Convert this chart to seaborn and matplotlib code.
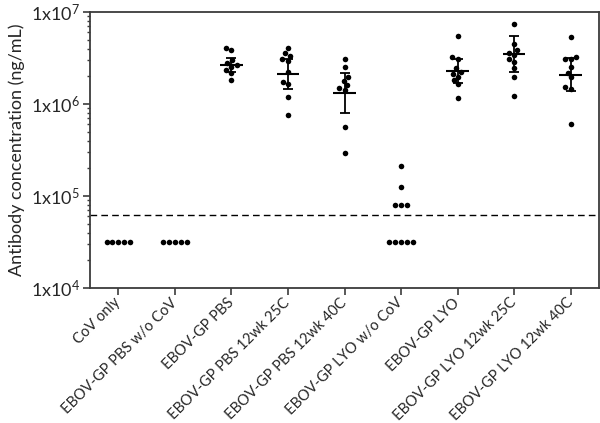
import numpy as np
import pandas as pd
import matplotlib
matplotlib.use("Agg")
import matplotlib.pyplot as plt
import seaborn as sns
from matplotlib.ticker import LogLocator, FuncFormatter, NullFormatter

# ---------------- data ----------------
groups = ["CoV only", "EBOV-GP PBS w/o CoV", "EBOV-GP PBS", "EBOV-GP PBS 12wk 25C",
          "EBOV-GP PBS 12wk 40C", "EBOV-GP LYO w/o CoV", "EBOV-GP LYO",
          "EBOV-GP LYO 12wk 25C", "EBOV-GP LYO 12wk 40C"]

cov_only = [31250, 31250, 31250, 31250, 31250]
pbs_wo_cov = [31250, 31250, 31250, 31250, 31250]
pbs = [4.03e6, 3.86e6, 3.0e6, 2.79e6, 2.66e6, 2.52e6, 2.34e6, 2.17e6, 1.82e6]
pbs_25c = [4.03e6, 3.56e6, 3.33e6, 3.06e6, 2.93e6, 2.24e6, 1.75e6, 1.65e6, 1.2e6, 7.6e5]
pbs_40c = [3.08e6, 2.54e6, 1.98e6, 1.8e6, 1.61e6, 1.49e6, 1.42e6, 5.6e5, 2.9e5]
lyo_wo_cov = [2.13e5, 1.24e5, 8.0e4, 8.0e4, 8.0e4, 31250, 31250, 31250, 31250, 31250]
lyo = [5.48e6, 3.27e6, 3.06e6, 2.44e6, 2.24e6, 2.12e6, 1.98e6, 1.82e6, 1.64e6, 1.17e6]
lyo_25c = [7.4e6, 4.45e6, 3.86e6, 3.56e6, 3.4e6, 3.06e6, 2.89e6, 2.44e6, 1.95e6, 1.22e6]
lyo_40c = [5.4e6, 3.22e6, 3.06e6, 3.06e6, 2.54e6, 2.19e6, 1.95e6, 1.54e6, 1.45e6, 6.07e5]

group_values = [cov_only, pbs_wo_cov, pbs, pbs_25c, pbs_40c, lyo_wo_cov, lyo, lyo_25c, lyo_40c]

# centre line and error-bar limits (NaN = not drawn)
centre = [np.nan, np.nan, 2.63e6, 2.12e6, 1.31e6, np.nan, 2.28e6, 3.47e6, 2.05e6]
err_low = [np.nan, np.nan, 2.24e6, 1.45e6, 7.9e5, np.nan, 1.68e6, 2.24e6, 1.40e6]
err_high = [np.nan, np.nan, 3.16e6, 3.08e6, 2.19e6, np.nan, 3.06e6, 5.48e6, 3.16e6]

lod = 62500
y_ticks = [1e4, 1e5, 1e6, 1e7]
y_label = "Antibody concentration (ng/mL)"

df = pd.DataFrame({
    "group": [g for g, vals in zip(groups, group_values) for _ in vals],
    "value": [v for vals in group_values for v in vals],
})

# ---------------- style ----------------
sns.set_style("ticks")
plt.rcParams["font.family"] = ["Lato", "DejaVu Sans"]
plt.rcParams["mathtext.fontset"] = "custom"
plt.rcParams["mathtext.rm"] = "Lato"
plt.rcParams["mathtext.it"] = "Lato:italic"
plt.rcParams["mathtext.bf"] = "Lato:bold"

fig = plt.figure(figsize=(6, 4.23), dpi=100)
ax = fig.add_axes([90 / 600, 1 - 288 / 423, 509 / 600, 276 / 423])

sns.swarmplot(data=df, x="group", y="value", order=groups, color="black",
              size=4.0, log_scale=True, ax=ax, zorder=3)

x = np.arange(len(groups))
c = np.array(centre)
lo = np.array(err_low)
hi = np.array(err_high)
ax.errorbar(x, c, yerr=[c - lo, hi - c], fmt="none", ecolor="black",
            elinewidth=1.3, capsize=3.3, capthick=1.3, zorder=4)
ax.hlines(c, x - 0.2, x + 0.2, color="black", lw=1.5, zorder=4)

ax.axhline(lod, color="black", lw=1.0, ls=(0, (4.8, 3.0)), zorder=2)

ax.set_xlim(-0.5, 8.5)
ax.set_ylim(1e4, 1e7)
ax.set_yticks(y_ticks)
ax.yaxis.set_minor_locator(LogLocator(base=10, subs=np.arange(2, 10), numticks=20))
ax.yaxis.set_minor_formatter(NullFormatter())
ax.yaxis.set_major_formatter(FuncFormatter(
    lambda v, p: r"$\mathregular{1x10^{%d}}$" % int(round(np.log10(v)))))

ax.set_xlabel("")
ax.set_ylabel(y_label, fontsize=13, labelpad=4)
ax.tick_params(axis="y", which="major", length=5, width=1.2, labelsize=13,
               color="#3c3c3c", pad=2)
ax.tick_params(axis="y", which="minor", length=2.5, width=1.0, color="#3c3c3c")
ax.tick_params(axis="x", which="major", length=5, width=1.2, labelsize=10.5,
               color="#3c3c3c", pad=4)
for lab in ax.get_xticklabels():
    lab.set_rotation(45)
    lab.set_ha("right")
    lab.set_va("center")
    lab.set_rotation_mode("anchor")

for s in ax.spines.values():
    s.set_visible(True)
    s.set_color("#3c3c3c")
    s.set_linewidth(1.3)

fig.savefig("out.png", dpi=100)
